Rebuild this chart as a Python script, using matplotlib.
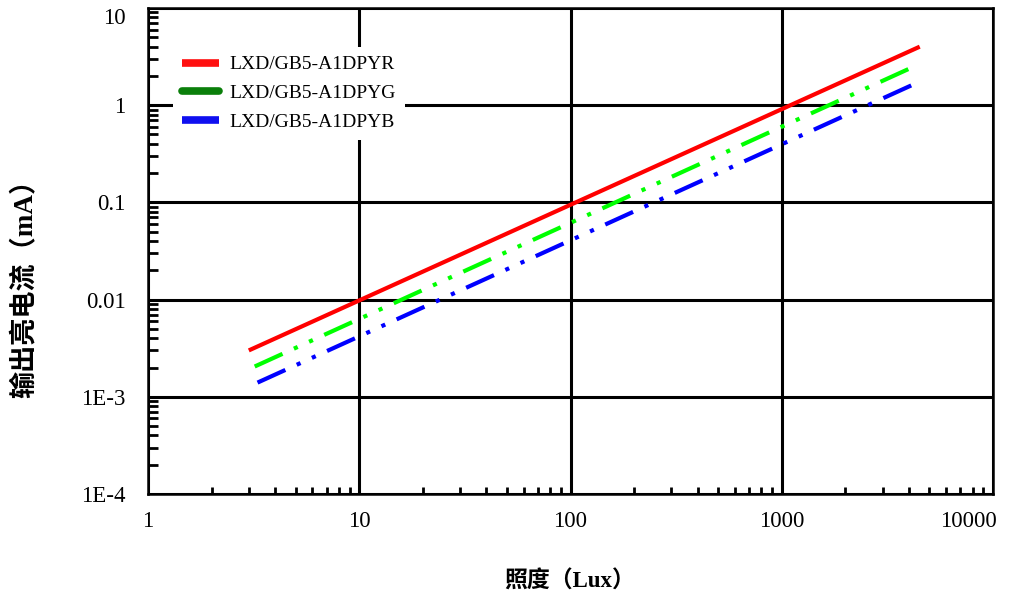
"""Photocurrent vs illuminance for the LXD/GB5-A1DPY* series (log-log)."""
import matplotlib.pyplot as plt
from matplotlib.lines import Line2D
from matplotlib.transforms import ScaledTranslation
from matplotlib.ticker import FixedLocator, FixedFormatter, LogLocator, NullFormatter

plt.rcParams["lines.scale_dashes"] = False

# illuminance (Lux) end points and output current (mA) for each part
lux_r = [3.0, 4500]
cur_r = [0.003, 4.0]
lux_g = [3.2, 4400]
cur_g = [0.00205, 2.6]
lux_b = [3.3, 4500]
cur_b = [0.0014, 1.75]

labels = ["LXD/GB5-A1DPYR", "LXD/GB5-A1DPYG", "LXD/GB5-A1DPYB"]

x_ticks = [1, 10, 100, 1000, 10000]
x_ticklabels = ["1", "10", "100", "1000", "10000"]
y_ticks = [1e-4, 1e-3, 1e-2, 1e-1, 1, 10]
y_ticklabels = ["1E-4", "1E-3", "0.01", "0.1", "1", "10"]

SERIF = "Liberation Serif"
MIXED = ["Liberation Serif", "Noto Sans CJK SC"]

W, H = 1011, 599
fig = plt.figure(figsize=(W / 100, H / 100), dpi=100)
ax = fig.add_axes([148 / W, 1 - 494 / H, (993 - 148) / W, (494 - 8) / H])

dash_dot_dot = (0, (22, 9, 3, 9, 3, 9))
ax.plot(lux_r, cur_r, color="#ff0000", lw=3, solid_capstyle="butt", zorder=3)
ax.plot(lux_g, cur_g, color="#00ff00", lw=3, ls=dash_dot_dot,
        dash_capstyle="butt", zorder=3)
ax.plot(lux_b, cur_b, color="#0000ff", lw=3, ls=dash_dot_dot,
        dash_capstyle="butt", zorder=3)

ax.set_xscale("log")
ax.set_yscale("log")
ax.set_xlim(1, 10000)
ax.set_ylim(1e-4, 10)

ax.xaxis.set_major_locator(FixedLocator(x_ticks))
ax.xaxis.set_major_formatter(FixedFormatter(x_ticklabels))
ax.yaxis.set_major_locator(FixedLocator(y_ticks))
ax.yaxis.set_major_formatter(FixedFormatter(y_ticklabels))
for axis in (ax.xaxis, ax.yaxis):
    axis.set_minor_locator(LogLocator(base=10, subs=range(2, 10)))
    axis.set_minor_formatter(NullFormatter())

ax.tick_params(which="major", length=0, labelsize=16.5, pad=12)
ax.tick_params(axis="y", which="major", pad=16)
ax.tick_params(axis="x", which="minor", direction="in", length=5, width=2,
               color="black")
ax.tick_params(axis="y", which="minor", direction="in", length=7, width=2,
               color="black")
for lab in ax.get_xticklabels() + ax.get_yticklabels():
    lab.set_fontfamily(SERIF)

# end labels are pulled inside the frame
fig.canvas.draw()
xl = ax.get_xticklabels()[-1]
xl.set_transform(xl.get_transform() + ScaledTranslation(-0.25, 0, fig.dpi_scale_trans))
yl = ax.get_yticklabels()[-1]
yl.set_transform(yl.get_transform() + ScaledTranslation(0, -0.08, fig.dpi_scale_trans))

ax.grid(True, which="major", color="black", lw=2.2)
for sp in ax.spines.values():
    sp.set_linewidth(1.8)
    sp.set_color("black")

handles = [
    Line2D([], [], color="#ff1010", lw=5.5, solid_capstyle="butt"),
    Line2D([], [], color="#0a7f0a", lw=5.5, solid_capstyle="round"),
    Line2D([], [], color="#1010f0", lw=5.5, solid_capstyle="butt"),
]
leg = fig.legend(handles, labels, loc="upper left",
                 bbox_to_anchor=(173 / W, 1 - 47 / H),
                 prop={"family": SERIF, "size": 14},
                 frameon=True, fancybox=False, framealpha=1,
                 facecolor="white", edgecolor="none",
                 borderpad=0.45, borderaxespad=0, handlelength=1.9,
                 handletextpad=0.55, labelspacing=0.58)
leg.set_zorder(5)

fig.text(26 / W, 1 - 282 / H, "输出亮电流（mA）", rotation=90,
         ha="center", va="center", fontsize=19.5, fontweight="bold",
         family=MIXED)
fig.text(570 / W, 1 - 582 / H, "照度（Lux）", ha="center", va="center",
         fontsize=16.5, fontweight="bold", family=MIXED)

fig.savefig("out.png", dpi=100)
